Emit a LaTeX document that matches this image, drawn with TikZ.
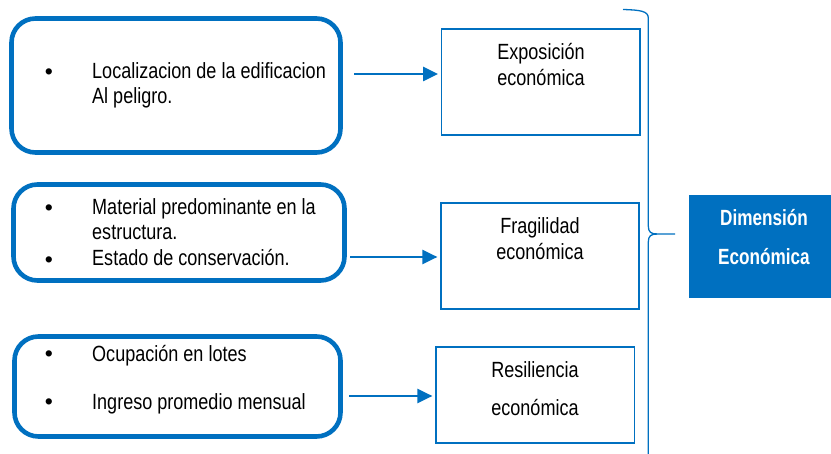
\documentclass[tikz,border=0pt]{standalone}
\usepackage{fontspec}
\setmainfont{Liberation Sans}[FakeStretch=0.82]
\newfontfamily\dimfont{Liberation Sans}[FakeStretch=0.78]
\newfontfamily\bulfont{Liberation Sans}
\usetikzlibrary{arrows.meta,calc}
\definecolor{azul}{HTML}{0070C0}
\begin{document}
\begin{tikzpicture}[x=1pt,y=-1pt,
  thickbox/.style={draw=azul,line width=4.6pt,rounded corners=24pt,inner sep=0pt},
  thinbox/.style={draw=azul,line width=1.2pt,inner sep=0pt},
  txt/.style={anchor=base west,inner sep=0pt,font=\fontsize{22}{25}\selectfont},
  ctxt/.style={anchor=base,inner sep=0pt,font=\fontsize{22}{25}\selectfont},
  bul/.style={anchor=base,inner sep=0pt,font=\bulfont\fontsize{23}{25}\selectfont},
  dtxt/.style={anchor=base,inner sep=0pt,text=white,font=\dimfont\bfseries\fontsize{22}{25}\selectfont},
  arr/.style={draw=azul,line width=2.3pt,-{Triangle[length=15pt,width=14pt]},shorten >=3pt}]
\useasboundingbox (0,0) rectangle (831,454);

% left rounded boxes
\node[thickbox,minimum width=329pt,minimum height=134pt] (b1) at (176,85.5) {};
\node[thickbox,minimum width=331pt,minimum height=96pt] (b2) at (179,232.5) {};
\node[thickbox,minimum width=326pt,minimum height=100pt] (b3) at (177.5,386.5) {};

% box 1 text
\node[bul] (b1d1) at (49,80) {•};
\node[txt] (b1l1) at (92,79) {Localizacion de la edificacion};
\node[txt] (b1l2) at (92,104) {Al peligro.};
% box 2 text
\node[bul] (b2d1) at (49,216) {•};
\node[txt] (b2l1) at (92,215) {Material predominante en la};
\node[txt] (b2l2) at (92,240) {estructura.};
\node[bul] (b2d2) at (49,268) {•};
\node[txt] (b2l3) at (92,266) {Estado de conservación.};
% box 3 text
\node[bul] (b3d1) at (49,362) {•};
\node[txt] (b3l1) at (92,362) {Ocupación en lotes};
\node[bul] (b3d2) at (49,410) {•};
\node[txt] (b3l2) at (92,410) {Ingreso promedio mensual};

% middle boxes
\node[thinbox,minimum width=198.3pt,minimum height=106pt] (e1) at (540.85,82) {};
\node[ctxt] (e1l1) at (541,60) {Exposición};
\node[ctxt] (e1l2) at (541,85.5) {económica};

\node[thinbox,minimum width=198pt,minimum height=106pt] (f1) at (540,256) {};
\node[ctxt] (f1l1) at (540,234) {Fragilidad};
\node[ctxt] (f1l2) at (540,259.5) {económica};

\node[thinbox,minimum width=198.7pt,minimum height=96pt] (r1) at (535.35,395) {};
\node[ctxt] (r1l1) at (535,378) {Resiliencia};
\node[ctxt] (r1l2) at (535,416) {económica};

% arrows
\draw[arr] ($(b1.east)+(11.5,-11.5)$) coordinate (a1) -- (a1 -| e1.west);
\draw[arr] ($(b2.east)+(3.5,24.5)$) coordinate (a2) -- (a2 -| f1.west);
\draw[arr] ($(b3.east)+(6.5,9.5)$) coordinate (a3) -- (a3 -| r1.west);

% brace
\coordinate (bt) at (623,9.5);
\coordinate (bm) at (675,234);
\coordinate (bb) at (648.3,454);
\draw[azul,line width=1.3pt]
  (bt) .. controls (640,10) and (648.3,11) .. (648.3,18)
  -- (648.3,226) .. controls (648.3,232) and (651,234) .. (657,234)
  -- (bm);
\draw[azul,line width=1.3pt]
  (657,234) .. controls (651,234) and (648.3,236) .. (648.3,242) -- (bb);

% Dimension box
\node[fill=azul,inner sep=0pt,minimum width=142pt,minimum height=103pt] (d1) at (760,246.5) {};
\node[dtxt] (d1l1) at (764,226) {Dimensión};
\node[dtxt] (d1l2) at (764,265) {Económica};
\end{tikzpicture}
\end{document}
